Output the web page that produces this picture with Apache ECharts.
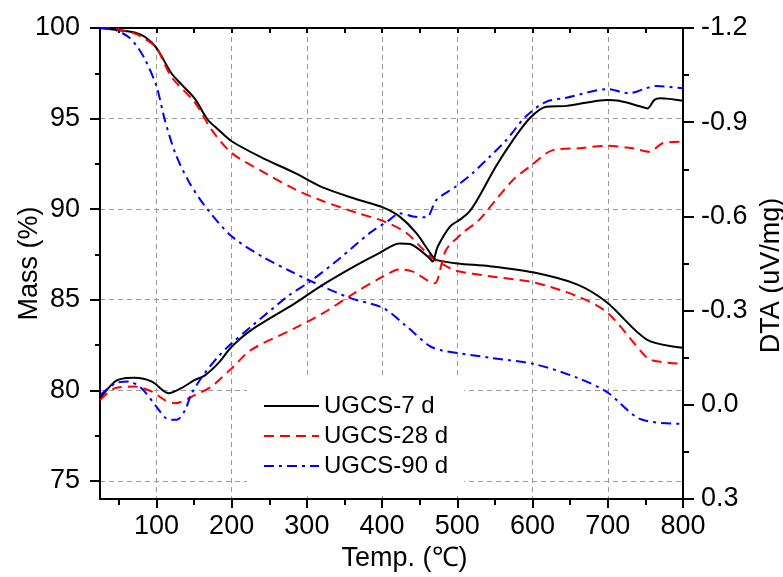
<!DOCTYPE html>
<html>
<head>
<meta charset="utf-8">
<title>TG-DTA</title>
<script src="https://cdn.jsdelivr.net/npm/echarts@6/dist/echarts.min.js"></script>
<style>
html,body{margin:0;padding:0;background:#fff;}
#main{width:783px;height:577px;}
</style>
</head>
<body>
<div id="main"></div>
<script>
//图例名称
var names = ['UGCS-7 d', 'UGCS-28 d', 'UGCS-90 d'];

//坐标刻度
var tempTicks = [100, 200, 300, 400, 500, 600, 700, 800];
var tempMinor = [50, 150, 250, 350, 450, 550, 650, 750];
var massTicks = [75, 80, 85, 90, 95, 100];
var massMinor = [77.5, 82.5, 87.5, 92.5, 97.5];

//TG 曲线 (Mass %)
var tgTemp7 = [25, 45, 71, 85, 100, 120, 133, 151, 168, 182, 200, 240, 284, 321, 366, 401, 423, 445, 467, 472, 500, 543, 602, 659, 699, 752, 800];
var tgMass7 = [100, 99.9, 99.75, 99.5, 98.9, 97.5, 96.9, 96.1, 94.95, 94.4, 93.75, 92.85, 92.0, 91.2, 90.55, 90.1, 89.6, 88.7, 87.4, 87.2, 87.0, 86.85, 86.5, 85.85, 84.85, 82.8, 82.35];

var tgTemp28 = [25, 45, 71, 85, 100, 120, 151, 173, 200, 240, 284, 321, 366, 401, 432, 454, 470, 485, 498, 543, 602, 659, 699, 752, 765, 800];
var tgMass28 = [100, 99.95, 99.7, 99.4, 98.9, 97.3, 95.9, 94.4, 93.1, 92.1, 91.1, 90.45, 89.8, 89.35, 88.7, 87.8, 87.2, 86.86, 86.6, 86.3, 85.95, 85.2, 84.3, 81.8, 81.6, 81.45];

var tgTemp90 = [25, 45, 63, 74, 85, 100, 111, 125, 142, 164, 200, 244, 277, 304, 357, 401, 432, 463, 480, 543, 602, 659, 699, 744, 800];
var tgMass90 = [100, 99.9, 99.5, 99.0, 98.25, 96.8, 94.95, 93.1, 91.6, 90.2, 88.5, 87.3, 86.6, 86.05, 85.1, 84.55, 83.55, 82.45, 82.2, 81.8, 81.45, 80.7, 79.9, 78.4, 78.15];

//DTA 曲线 (uV/mg)
var dtaTemp7 = [25, 45, 60, 71, 94, 116, 133, 151, 164, 182, 200, 226, 284, 321, 366, 397, 423, 437, 463, 467, 474, 490, 503, 516, 529, 551, 574, 596, 618, 645, 700, 715, 748, 753, 762, 770, 800];
var dtaVal7 = [-0.02, -0.074, -0.085, -0.086, -0.074, -0.037, -0.053, -0.079, -0.093, -0.132, -0.185, -0.238, -0.323, -0.382, -0.445, -0.484, -0.514, -0.512, -0.467, -0.456, -0.504, -0.567, -0.589, -0.615, -0.663, -0.758, -0.843, -0.912, -0.949, -0.952, -0.971, -0.968, -0.947, -0.944, -0.971, -0.976, -0.968];

var dtaTemp28 = [25, 45, 71, 94, 111, 125, 151, 173, 200, 226, 284, 321, 366, 401, 423, 441, 463, 470, 485, 507, 529, 551, 574, 596, 627, 662, 700, 733, 755, 773, 800];
var dtaVal28 = [-0.015, -0.053, -0.058, -0.042, -0.015, -0.005, -0.031, -0.058, -0.116, -0.175, -0.244, -0.291, -0.36, -0.408, -0.431, -0.424, -0.392, -0.387, -0.493, -0.547, -0.589, -0.652, -0.716, -0.758, -0.811, -0.817, -0.825, -0.817, -0.806, -0.833, -0.838];

var dtaTemp90 = [25, 45, 63, 80, 100, 113, 127, 138, 147, 164, 182, 200, 226, 277, 304, 344, 383, 410, 423, 441, 459, 472, 498, 520, 543, 565, 591, 618, 645, 700, 728, 751, 764, 800];
var dtaVal90 = [-0.03, -0.068, -0.074, -0.053, 0.006, 0.043, 0.048, 0.017, -0.037, -0.1, -0.153, -0.196, -0.249, -0.35, -0.392, -0.467, -0.546, -0.589, -0.61, -0.6, -0.597, -0.652, -0.695, -0.737, -0.79, -0.843, -0.918, -0.965, -0.978, -1.005, -0.992, -1.008, -1.015, -1.008];

//=================================================================================
var FONT = 'Liberation Sans, Arial, sans-serif';
var gridLine = {show: true, lineStyle: {color: '#9a9a9a', width: 1, type: [5, 4]}};
var frame = {show: true, onZero: false, lineStyle: {color: '#000', width: 2}};
var noLine = {show: false, onZero: false};

function pairs(ts, vs) {
	var arr = [];
	for (var i = 0; i < ts.length; i++) {
		arr.push([ts[i], vs[i]]);
	}
	return arr;
}

function line(name, ts, vs, yIndex, color, dash) {
	return {
		name: name,
		type: 'line',
		xAxisIndex: 0,
		yAxisIndex: yIndex,
		data: pairs(ts, vs),
		symbol: 'none',
		smooth: 0.3,
		lineStyle: {color: color, width: 2, type: dash},
		itemStyle: {color: color}
	};
}

var myChart = echarts.init(document.getElementById('main'));
myChart.setOption({
	animation: false,
	backgroundColor: '#fff',
	textStyle: {fontFamily: FONT},
	grid: {left: 100, right: 100, top: 28, bottom: 78, containLabel: false, outerBoundsMode: 'none'},
	legend: {
		data: names,
		orient: 'vertical',
		left: 247,
		top: 377,
		padding: [17, 16, 17, 16],
		backgroundColor: '#fff',
		itemWidth: 55,
		itemHeight: 14,
		itemGap: 6,
		selectedMode: false,
		itemStyle: {opacity: 0},
		textStyle: {fontSize: 24, lineHeight: 24, color: '#000', fontFamily: FONT}
	},
	xAxis: [{
		type: 'value', position: 'bottom', min: 25, max: 800,
		axisLine: frame,
		axisTick: {length: 9, lineStyle: {width: 2, color: '#000'}, customValues: tempTicks},
		axisLabel: {customValues: tempTicks, fontSize: 27, color: '#000', margin: 14, fontFamily: FONT},
		splitLine: gridLine,
		name: 'Temp. (℃)', nameLocation: 'middle', nameGap: 46,
		nameTextStyle: {fontSize: 27, color: '#000', fontFamily: FONT, padding: [0, 0, 0, 26]}
	}, {
		type: 'value', position: 'bottom', min: 25, max: 800,
		axisLine: noLine,
		axisTick: {length: 6, lineStyle: {width: 2, color: '#000'}, customValues: tempMinor},
		axisLabel: {show: false},
		splitLine: {show: false}
	}, {
		type: 'value', position: 'top', min: 25, max: 800,
		axisLine: frame,
		axisTick: {inside: true, length: 5, lineStyle: {width: 2, color: '#000'}, customValues: tempMinor.concat(tempTicks)},
		axisLabel: {show: false},
		splitLine: {show: false}
	}],
	yAxis: [{
		type: 'value', position: 'left', min: 74, max: 100,
		axisLine: frame,
		axisTick: {length: 10, lineStyle: {width: 2, color: '#000'}, customValues: massTicks},
		axisLabel: {customValues: massTicks, fontSize: 27, color: '#000', margin: 20, fontFamily: FONT},
		splitLine: gridLine,
		name: 'Mass (%)', nameLocation: 'middle', nameGap: 57, nameMoveOverlap: false,
		nameTextStyle: {fontSize: 27, color: '#000', fontFamily: FONT}
	}, {
		type: 'value', position: 'left', min: 74, max: 100,
		axisLine: noLine,
		axisTick: {length: 5, lineStyle: {width: 2, color: '#000'}, customValues: massMinor},
		axisLabel: {show: false},
		splitLine: {show: false}
	}, {
		type: 'value', position: 'right', min: -1.2, max: 0.3, interval: 0.3, inverse: true,
		axisLine: frame,
		axisTick: {length: 11, lineStyle: {width: 2, color: '#000'}},
		minorTick: {show: true, splitNumber: 2, length: 6, lineStyle: {width: 2, color: '#000'}},
		axisLabel: {
			fontSize: 27, color: '#000', margin: 18, fontFamily: FONT,
			formatter: function (v) {
				if (Math.abs(v) < 1e-9) return '0.0';
				return v.toFixed(1);
			}
		},
		splitLine: {show: false},
		name: 'DTA (uV/mg)', nameLocation: 'middle', nameGap: 62,
		nameTextStyle: {fontSize: 27, color: '#000', fontFamily: FONT, padding: [0, 24, 0, 0]}
	}],
	series: [
		line(names[0], tgTemp7, tgMass7, 0, '#000000', 'solid'),
		line(names[1], tgTemp28, tgMass28, 0, '#ff0000', [10, 6]),
		line(names[2], tgTemp90, tgMass90, 0, '#0000ff', [10, 5, 3, 5]),
		line(names[0], dtaTemp7, dtaVal7, 2, '#000000', 'solid'),
		line(names[1], dtaTemp28, dtaVal28, 2, '#ff0000', [10, 6]),
		line(names[2], dtaTemp90, dtaVal90, 2, '#0000ff', [10, 5, 3, 5])
	]
});
</script>
</body>
</html>
